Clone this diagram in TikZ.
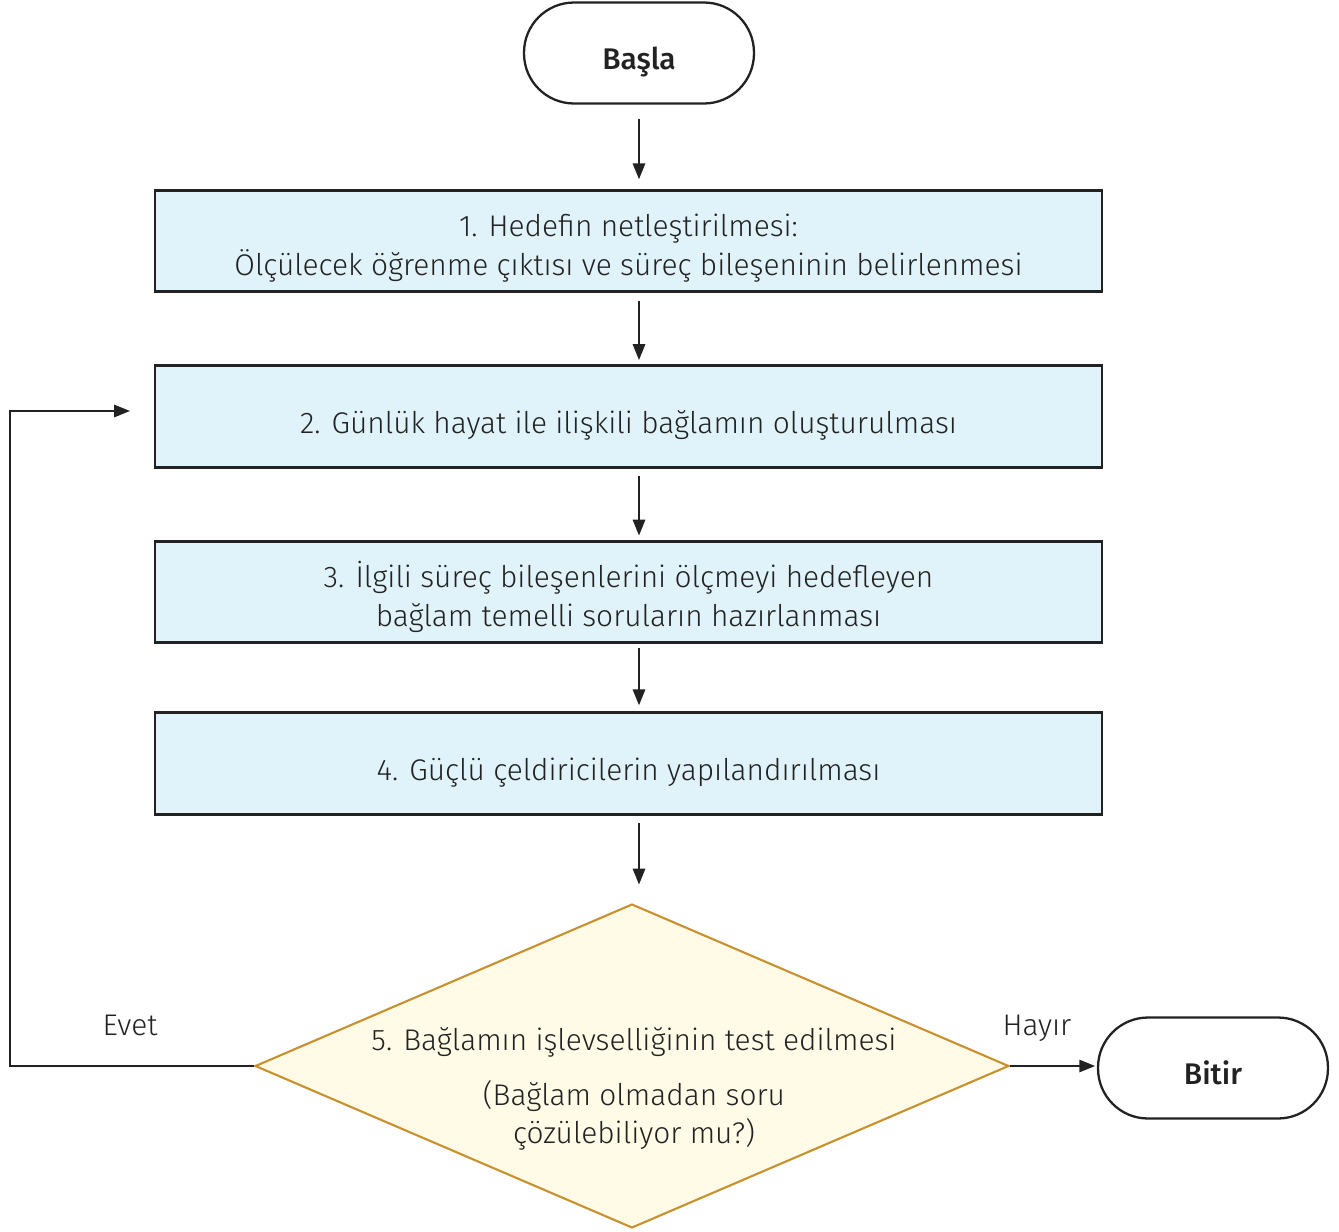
\documentclass[tikz,border=0pt]{standalone}
\usepackage{fontspec}
\setmainfont{Fira Sans}[UprightFont=* Light,BoldFont=* Medium]
\usetikzlibrary{shapes.geometric,arrows.meta}
\definecolor{boxblue}{HTML}{E0F3FA}
\definecolor{decfill}{HTML}{FFFBE6}
\definecolor{decline}{HTML}{C8902E}
\definecolor{ink}{HTML}{222222}

\begin{document}
\begin{tikzpicture}[x=0.02cm,y=-0.02cm,font=\fontsize{17}{22}\selectfont,
  stepbox/.style={draw=ink,line width=1.5pt,fill=boxblue,minimum width=18.94cm,minimum height=2.03cm,inner sep=0pt,align=center,text=ink,text height=19pt,text depth=0pt},
  twoline/.style={text height=39pt},
  term/.style={draw=ink,line width=1.3pt,rounded corners=1cm,minimum width=4.6cm,minimum height=2.02cm,inner sep=0pt,text=ink,font=\fontsize{17}{22}\selectfont\bfseries,text height=19pt,text depth=0pt},
  flow/.style={draw=ink,line width=1.1pt,-{Triangle[length=9pt,width=7pt]}},
]
\useasboundingbox (0,0) rectangle (1339,1231);

% terminals and steps
\node[term] (start) at (639,53) {Başla};
\node[stepbox,twoline] (s1) at (628.5,241) {1. Hedefin netleştirilmesi:\\Ölçülecek öğrenme çıktısı ve süreç bileşeninin belirlenmesi};
\node[stepbox] (s2) at (628.5,416.5) {2. Günlük hayat ile ilişkili bağlamın oluşturulması};
\node[stepbox,twoline] (s3) at (628.5,592) {3. İlgili süreç bileşenlerini ölçmeyi hedefleyen\\bağlam temelli soruların hazırlanması};
\node[stepbox] (s4) at (628.5,763.5) {4. Güçlü çeldiricilerin yapılandırılması};

\node[diamond,draw=decline,line width=1.2pt,fill=decfill,minimum width=15.08cm,minimum height=6.48cm,inner sep=0pt] (dec) at (632,1066) {};
\node[align=center,text=ink] (q) at (634,1089) {5. Bağlamın işlevselliğinin test edilmesi\\[9pt](Bağlam olmadan soru\\çözülebiliyor mu?)};

\node[term] (end) at (1213,1068) {Bitir};

\node[text=ink] (yes) at (130,1025) {Evet};
\node[text=ink] (no) at (1037,1028) {Hayır};

% arrows
\draw[flow,shorten <=8pt,shorten >=5.5pt] (start.south) -- (start.south |- s1.north);
\draw[flow,shorten <=4.5pt,shorten >=2.5pt] (start.south |- s1.south) -- (start.south |- s2.north);
\draw[flow,shorten <=4.5pt,shorten >=2.5pt] (start.south |- s2.south) -- (start.south |- s3.north);
\draw[flow,shorten <=2pt,shorten >=3.5pt] (start.south |- s3.south) -- (start.south |- s4.north);
\draw[flow,shorten <=4.5pt,shorten >=10.5pt] (start.south |- s4.south) -- (start.south |- dec.north);

\draw[flow,shorten >=1pt] (dec.east) -- (dec.east -| end.west);

\coordinate (bend) at (10,411);
\coordinate (back) at (130,411);
\draw[flow] (dec.west) -| (bend) -- (back);

\end{tikzpicture}
\end{document}
